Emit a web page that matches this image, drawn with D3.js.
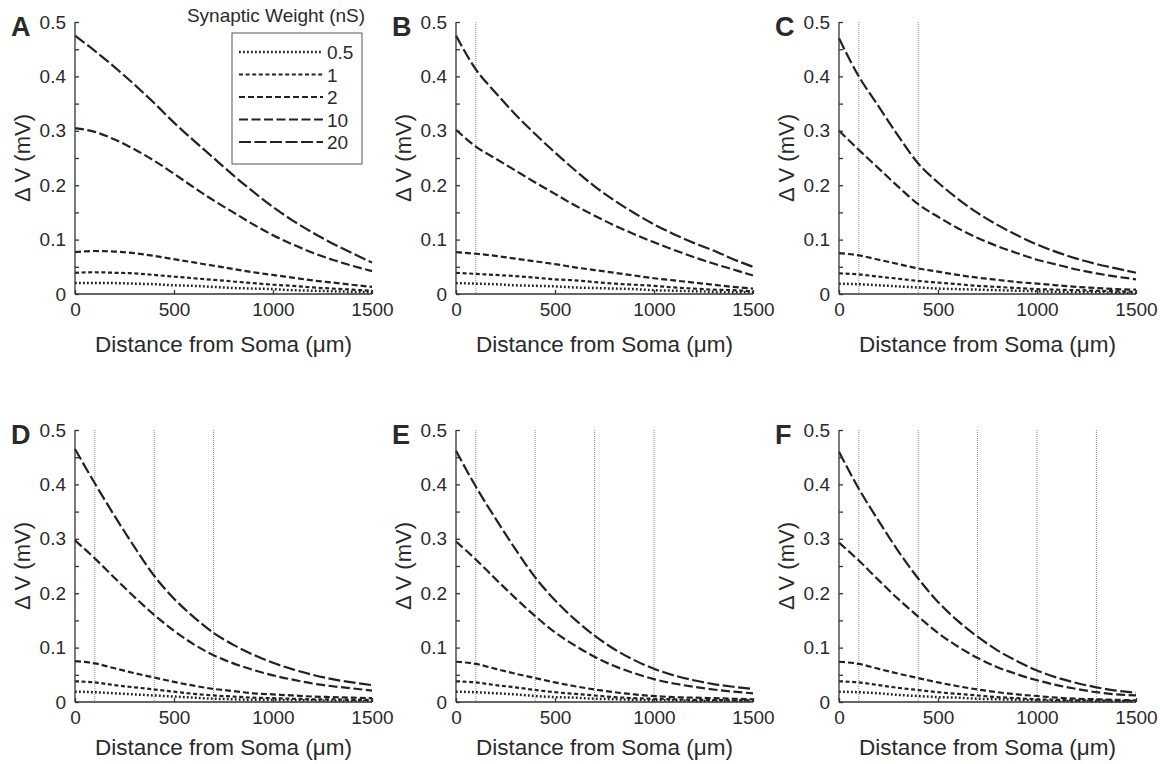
<!DOCTYPE html>
<meta charset="utf-8">
<style>
  body { margin: 0; background: #fff; }
  text { font-family: "Liberation Sans", Arial, sans-serif; fill: #2a2a2a; }
</style>
<script src="https://d3js.org/d3.v7.min.js"></script>
<div id="chart"></div>
<script>
  // distances along the dendrite (um), shared by every curve
  const distances = [0, 100, 200, 300, 400, 500, 600, 700, 800, 900, 1000, 1100, 1200, 1300, 1400, 1500];
  const weights = ["0.5", "1", "2", "10", "20"];
  const xTicks = [0, 500, 1000, 1500];
  const yTicks = [0, 0.1, 0.2, 0.3, 0.4, 0.5];
  const yMinorTicks = [0.05, 0.15, 0.25, 0.35, 0.45];
  const panelLetters = ["A", "B", "C", "D", "E", "F"];
  // positions of the inhibitory synapses (um) in each panel
  const inhibSites = [[], [100], [100, 400], [100, 400, 700], [100, 400, 700, 1000], [100, 400, 700, 1000, 1300]];

  // dV (mV) per panel, one row per synaptic weight (0.5, 1, 2, 10, 20 nS)
  const panelA = [
    [0.02, 0.02, 0.02, 0.019, 0.018, 0.016, 0.015, 0.013, 0.011, 0.01, 0.009, 0.007, 0.006, 0.005, 0.004, 0.003],
    [0.039, 0.04, 0.039, 0.038, 0.035, 0.032, 0.029, 0.026, 0.023, 0.02, 0.017, 0.015, 0.012, 0.01, 0.008, 0.006],
    [0.077, 0.079, 0.078, 0.075, 0.07, 0.064, 0.058, 0.052, 0.046, 0.04, 0.035, 0.03, 0.025, 0.021, 0.017, 0.013],
    [0.305, 0.298, 0.284, 0.266, 0.245, 0.221, 0.196, 0.172, 0.15, 0.128, 0.108, 0.091, 0.076, 0.063, 0.052, 0.042],
    [0.475, 0.447, 0.417, 0.385, 0.351, 0.315, 0.282, 0.25, 0.218, 0.188, 0.16, 0.135, 0.113, 0.093, 0.075, 0.058]
  ];
  const panelB = [
    [0.02, 0.019, 0.018, 0.016, 0.015, 0.014, 0.012, 0.011, 0.01, 0.009, 0.007, 0.006, 0.005, 0.004, 0.003, 0.003],
    [0.039, 0.037, 0.035, 0.033, 0.03, 0.027, 0.025, 0.022, 0.019, 0.017, 0.015, 0.012, 0.01, 0.008, 0.007, 0.005],
    [0.077, 0.074, 0.07, 0.065, 0.06, 0.055, 0.049, 0.044, 0.039, 0.034, 0.029, 0.025, 0.021, 0.017, 0.013, 0.01],
    [0.302, 0.271, 0.249, 0.227, 0.205, 0.184, 0.163, 0.144, 0.126, 0.11, 0.095, 0.081, 0.068, 0.056, 0.045, 0.034],
    [0.475, 0.413, 0.37, 0.33, 0.294, 0.26, 0.228, 0.198, 0.172, 0.149, 0.128, 0.11, 0.094, 0.08, 0.064, 0.05]
  ];
  const panelC = [
    [0.019, 0.018, 0.016, 0.014, 0.012, 0.01, 0.009, 0.008, 0.007, 0.006, 0.005, 0.004, 0.003, 0.003, 0.002, 0.002],
    [0.038, 0.036, 0.032, 0.028, 0.024, 0.021, 0.018, 0.015, 0.013, 0.011, 0.009, 0.008, 0.007, 0.006, 0.005, 0.004],
    [0.075, 0.071, 0.063, 0.055, 0.047, 0.041, 0.035, 0.03, 0.026, 0.022, 0.019, 0.016, 0.013, 0.011, 0.009, 0.008],
    [0.3, 0.265, 0.231, 0.197, 0.165, 0.142, 0.121, 0.103, 0.088, 0.075, 0.063, 0.054, 0.045, 0.038, 0.032, 0.027],
    [0.47, 0.4, 0.345, 0.29, 0.24, 0.205, 0.175, 0.149, 0.127, 0.108, 0.091, 0.077, 0.065, 0.055, 0.047, 0.039]
  ];
  const panelD = [
    [0.019, 0.018, 0.016, 0.014, 0.012, 0.01, 0.008, 0.006, 0.005, 0.004, 0.004, 0.003, 0.003, 0.002, 0.002, 0.002],
    [0.038, 0.036, 0.031, 0.027, 0.023, 0.019, 0.015, 0.012, 0.01, 0.008, 0.007, 0.006, 0.005, 0.005, 0.004, 0.004],
    [0.075, 0.071, 0.062, 0.053, 0.045, 0.037, 0.03, 0.024, 0.02, 0.016, 0.014, 0.012, 0.01, 0.009, 0.008, 0.007],
    [0.297, 0.264, 0.228, 0.193, 0.16, 0.131, 0.106, 0.086, 0.071, 0.059, 0.049, 0.041, 0.034, 0.029, 0.025, 0.021],
    [0.465, 0.402, 0.342, 0.285, 0.232, 0.19, 0.156, 0.127, 0.105, 0.087, 0.072, 0.06, 0.05, 0.042, 0.036, 0.031]
  ];
  const panelE = [
    [0.019, 0.018, 0.016, 0.014, 0.011, 0.009, 0.008, 0.006, 0.005, 0.004, 0.003, 0.003, 0.002, 0.002, 0.002, 0.002],
    [0.038, 0.036, 0.031, 0.027, 0.022, 0.018, 0.015, 0.012, 0.009, 0.007, 0.006, 0.005, 0.004, 0.004, 0.003, 0.003],
    [0.074, 0.07, 0.061, 0.052, 0.044, 0.036, 0.029, 0.023, 0.018, 0.014, 0.011, 0.009, 0.008, 0.007, 0.006, 0.005],
    [0.295, 0.262, 0.226, 0.191, 0.158, 0.128, 0.104, 0.083, 0.066, 0.053, 0.042, 0.034, 0.028, 0.023, 0.019, 0.016],
    [0.462, 0.396, 0.337, 0.281, 0.229, 0.187, 0.152, 0.122, 0.097, 0.077, 0.061, 0.049, 0.04, 0.033, 0.028, 0.024]
  ];
  const panelF = [
    [0.019, 0.018, 0.016, 0.013, 0.011, 0.009, 0.008, 0.006, 0.005, 0.004, 0.003, 0.002, 0.002, 0.001, 0.001, 0.001],
    [0.038, 0.036, 0.031, 0.026, 0.022, 0.018, 0.015, 0.012, 0.009, 0.007, 0.005, 0.004, 0.003, 0.003, 0.002, 0.002],
    [0.074, 0.07, 0.061, 0.052, 0.044, 0.036, 0.029, 0.023, 0.018, 0.014, 0.011, 0.008, 0.006, 0.005, 0.004, 0.003],
    [0.293, 0.26, 0.224, 0.189, 0.157, 0.127, 0.102, 0.081, 0.064, 0.051, 0.04, 0.031, 0.024, 0.018, 0.014, 0.012],
    [0.46, 0.392, 0.333, 0.277, 0.227, 0.184, 0.149, 0.12, 0.095, 0.075, 0.058, 0.045, 0.035, 0.027, 0.021, 0.017]
  ];
  const panels = [panelA, panelB, panelC, panelD, panelE, panelF];

  // line style for each weight
  const dashes = ["1.8,2.2", "4,2.6", "6,3", "9,3.5", "12,3.5"];
  const widths = [2.5, 2.2, 2.2, 2.2, 2.2];

  const W = 1160, H = 764;
  const colX = [75, 456, 839], rowY = [22, 430];
  const pw = 297, ph = 272;

  const svg = d3.select("#chart").append("svg")
    .attr("width", W).attr("height", H);

  const x = d3.scaleLinear().domain([0, 1500]).range([0, pw]);
  const y = d3.scaleLinear().domain([0, 0.5]).range([ph, 0]);

  const line = d3.line()
    .curve(d3.curveMonotoneX)
    .x((d, i) => x(distances[i]))
    .y(d => y(d));

  panels.forEach(function (series, p) {
    const g = svg.append("g")
      .attr("transform", `translate(${colX[p % 3]},${rowY[Math.floor(p / 3)]})`);

    // inhibitory synapse markers
    g.selectAll(".inh")
      .data(inhibSites[p])
      .join("line")
      .attr("x1", d => x(d)).attr("x2", d => x(d))
      .attr("y1", 0).attr("y2", ph)
      .attr("stroke", "#8a8a8a")
      .attr("stroke-width", 1)
      .attr("stroke-dasharray", "1,1");

    // curves
    g.selectAll(".curve")
      .data(series)
      .join("path")
      .attr("fill", "none")
      .attr("stroke", "#222")
      .attr("stroke-width", (d, i) => widths[i])
      .attr("stroke-dasharray", (d, i) => dashes[i])
      .attr("d", d => line(d));

    // axes: inward ticks
    const yAxis = d3.axisLeft(y).tickValues(yTicks).tickSize(-4).tickPadding(9)
      .tickFormat(d => d === 0 ? "0" : d3.format(".1f")(d));
    const ya = g.append("g").call(yAxis);
    ya.select(".domain").attr("d", `M0,0V${ph}`);
    const yMinor = g.append("g").call(d3.axisLeft(y).tickValues(yMinorTicks).tickSize(-4).tickFormat(""));
    yMinor.select(".domain").remove();

    const xAxis = d3.axisBottom(x).tickValues(xTicks).tickSize(-4).tickPadding(9)
      .tickFormat(d3.format("d"));
    const xa = g.append("g").attr("transform", `translate(0,${ph})`).call(xAxis);
    xa.select(".domain").attr("d", `M0,0H${pw}`);

    g.selectAll(".domain, .tick line").attr("stroke", "#333").attr("stroke-width", 1.3);
    g.selectAll(".tick text")
      .attr("font-size", 19)
      .attr("font-family", "Liberation Sans, Arial, sans-serif")
      .attr("fill", "#2a2a2a");

    // axis titles
    g.append("text")
      .attr("x", pw / 2).attr("y", ph + (p < 3 ? 58 : 53))
      .attr("text-anchor", "middle")
      .attr("font-size", 22.5)
      .text("Distance from Soma (\u03bcm)");

    g.append("text")
      .attr("transform", `translate(-45,${ph / 2}) rotate(-90)`)
      .attr("text-anchor", "middle")
      .attr("font-size", 22)
      .text("\u0394 V (mV)");

    // panel letter
    g.append("text")
      .attr("x", -64).attr("y", 14)
      .attr("font-size", 27)
      .attr("font-weight", "bold")
      .attr("fill", "#111")
      .text(panelLetters[p]);
  });

  // legend in panel A
  const leg = svg.append("g").attr("transform", "translate(232,33)");
  svg.append("text")
    .attr("x", 276).attr("y", 22)
    .attr("text-anchor", "middle")
    .attr("font-size", 19)
    .text("Synaptic Weight (nS)");
  leg.append("rect")
    .attr("width", 130).attr("height", 131)
    .attr("fill", "#fff")
    .attr("stroke", "#555")
    .attr("stroke-width", 1);
  const rows = leg.selectAll(".row")
    .data(weights)
    .join("g")
    .attr("transform", (d, i) => `translate(0,${19 + i * 22.5})`);
  rows.append("line")
    .attr("x1", 7).attr("x2", 91)
    .attr("stroke", "#222")
    .attr("stroke-width", (d, i) => widths[i])
    .attr("stroke-dasharray", (d, i) => dashes[i]);
  rows.append("text")
    .attr("x", 95).attr("y", 7)
    .attr("font-size", 19)
    .text(d => d);
</script>
